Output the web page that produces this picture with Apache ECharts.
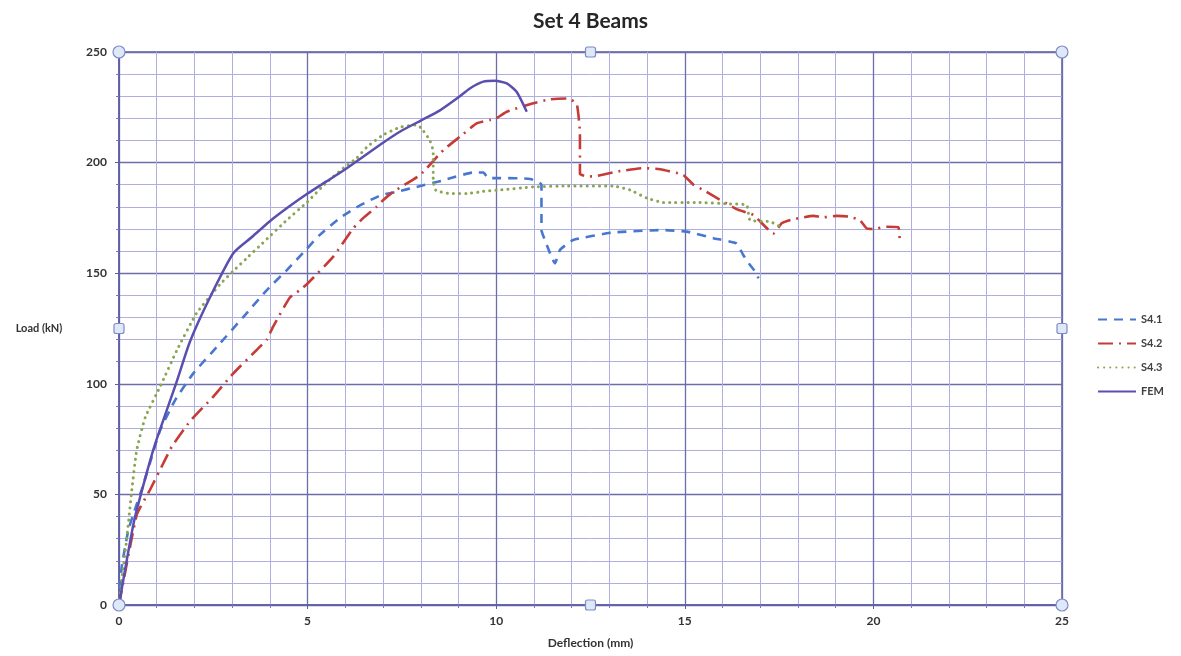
<!DOCTYPE html>
<html>
<head>
<meta charset="utf-8">
<script src="https://cdn.jsdelivr.net/npm/echarts@6/dist/echarts.min.js"></script>
<style>
html,body{margin:0;padding:0;background:#fff;}
#chart{width:1181px;height:656px;}
</style>
</head>
<body>
<div id="chart"></div>
<script>
// ---- Data ----
const chartTitle = "Set 4 Beams";
const xAxisName = "Deflection (mm)";
const yAxisName = "Load (kN)";
const seriesNames = ["S4.1", "S4.2", "S4.3", "FEM"];

const s41_x = [0, 0.07, 0.25, 0.42, 0.6, 0.87, 1.09, 1.5, 1.97, 2.68, 3.3, 3.92, 4.45, 4.98, 5.3, 5.9, 6.4, 6.95, 7.36, 7.89, 8.6, 9.39, 9.66, 9.79, 10.1, 10.9, 11.2, 11.2, 11.29, 11.56, 11.69, 12.04, 13.1, 14.43, 15.05, 15.76, 16.37, 16.55, 16.73, 16.9, 16.95];
const s41_y = [0, 17, 34, 43, 52, 67, 79, 93, 104.7, 118.3, 130.3, 142.4, 151.4, 161, 167, 175.5, 180.8, 185.3, 186.8, 189, 192, 195.5, 195.5, 193, 193, 192.6, 190, 169.5, 165, 154.5, 160.5, 165, 168.4, 169.5, 168.8, 165.8, 163.5, 158.2, 153.7, 150, 147.7];

const s42_x = [0, 0.47, 0.82, 1.22, 1.4, 1.88, 2.5, 3.03, 3.65, 3.92, 4.09, 4.53, 4.8, 4.98, 5.68, 6.21, 6.48, 6.83, 7.0, 7.27, 7.98, 8.6, 9.04, 9.48, 9.84, 10.0, 10.28, 10.98, 11.43, 11.87, 12.13, 12.22, 12.22, 12.4, 12.66, 13.19, 13.9, 14.34, 14.96, 15.23, 15.49, 16.37, 16.82, 17.35, 17.57, 17.88, 18.41, 18.67, 19.02, 19.34, 19.64, 19.82, 20.0, 20.35, 20.66, 20.7];
const s42_y = [0, 40.7, 52, 65.6, 71.6, 83, 94.2, 104.7, 115.3, 120, 126, 139, 142.4, 145, 157.5, 170.3, 175, 180, 183, 186.8, 194.4, 205.7, 211.7, 217.7, 219.3, 220, 223, 226.8, 228.6, 229, 226.8, 213, 195, 193.7, 193.9, 195.9, 197.5, 197, 194.4, 190, 187.6, 179, 176.3, 168, 172.6, 174.4, 175.9, 175.3, 175.9, 175.6, 174, 170.3, 170, 171, 170.8, 164];

const s43_x = [0, 0.1, 0.2, 0.34, 0.47, 0.7, 1.09, 1.53, 2.06, 2.68, 3.03, 3.4, 3.8, 4.45, 4.98, 5.5, 5.95, 6.3, 6.57, 7.0, 7.45, 7.89, 8.02, 8.24, 8.33, 8.33, 8.4, 8.78, 9.22, 9.66, 10.1, 10.98, 11.87, 13.1, 13.55, 13.99, 14.43, 15.31, 16.2, 16.64, 16.73, 17.26, 17.61];
const s43_y = [0, 15, 29, 52, 70, 85, 98.7, 115, 132, 145, 151, 157, 163.5, 174, 182, 191, 197.5, 202, 207, 212.5, 216, 217, 215.5, 210, 205, 192, 187.5, 186, 186, 187, 187.6, 189, 189.4, 189.4, 187.6, 184, 182, 182, 181.3, 180.8, 174, 173.3, 170.3];

const fem_x = [0, 0.4, 0.82, 1.0, 1.53, 1.88, 2.41, 3.03, 3.5, 4.0, 4.5, 5.0, 5.5, 6.0, 6.5, 7.0, 7.5, 8.0, 8.5, 9.0, 9.3, 9.66, 9.97, 10.28, 10.54, 10.81];
const fem_y = [0, 38, 65, 75, 101, 119, 139, 159, 166, 173.5, 180, 186, 191.5, 197, 203, 209, 214.5, 219, 223.5, 229.5, 233.5, 236.6, 237, 235.8, 232, 223];

const xTicks = [0, 5, 10, 15, 20, 25];
const yTicks = [0, 50, 100, 150, 200, 250];

// ---- Chart ----
const pairs = (xs, ys) => xs.map((x, i) => [x, ys[i]]);
const FONT = "Lato, 'Open Sans', 'DejaVu Sans', sans-serif";

const chart = echarts.init(document.getElementById('chart'), null, {renderer: 'canvas'});

const option = {
  backgroundColor: '#ffffff',
  animation: false,
  title: {
    text: chartTitle,
    left: 'center',
    top: 6,
    textStyle: {fontFamily: FONT, fontSize: 21, fontWeight: 'bold', color: '#262626'}
  },
  legend: {
    orient: 'vertical',
    left: 1092,
    top: 309,
    itemWidth: 38,
    itemHeight: 10,
    itemGap: 13,
    itemStyle: {opacity: 0, borderWidth: 0},
    data: seriesNames,
    textStyle: {fontFamily: FONT, fontSize: 11, fontWeight: 'bold', color: '#404040'}
  },
  grid: {
    left: 119, right: 119, top: 52, bottom: 51,
    show: true,
    borderColor: '#5d5da6',
    borderWidth: 1.5,
    containLabel: false
  },
  xAxis: {
    type: 'value',
    min: xTicks[0], max: xTicks[xTicks.length - 1], interval: 5,
    name: xAxisName,
    nameLocation: 'middle',
    nameGap: 32,
    nameTextStyle: {fontFamily: FONT, fontSize: 12, fontWeight: 'bold', color: '#333'},
    axisLine: {show: true, lineStyle: {color: '#5d5da6', width: 1.5}},
    axisTick: {show: true, length: 4, inside: false, lineStyle: {color: '#5d5da6'}},
    minorTick: {show: true, splitNumber: 5, length: 3, lineStyle: {color: '#7a7ab8'}},
    axisLabel: {fontFamily: FONT, fontSize: 12, fontWeight: 'bold', color: '#333', margin: 10},
    splitLine: {show: true, lineStyle: {color: '#6c6cab', width: 1.3}},
    minorSplitLine: {show: true, lineStyle: {color: '#aeaee0', width: 1}}
  },
  yAxis: {
    type: 'value',
    min: yTicks[0], max: yTicks[yTicks.length - 1], interval: 50,
    name: yAxisName,
    nameLocation: 'middle',
    nameRotate: 0,
    nameGap: 80,
    nameTextStyle: {fontFamily: FONT, fontSize: 11, fontWeight: 'bold', color: '#333', align: 'center', verticalAlign: 'middle'},
    axisLine: {show: true, lineStyle: {color: '#5d5da6', width: 1.5}},
    axisTick: {show: true, length: 4, lineStyle: {color: '#5d5da6'}},
    minorTick: {show: true, splitNumber: 5, length: 3, lineStyle: {color: '#7a7ab8'}},
    axisLabel: {fontFamily: FONT, fontSize: 12, fontWeight: 'bold', color: '#333', margin: 12},
    splitLine: {show: true, lineStyle: {color: '#6c6cab', width: 1.3}},
    minorSplitLine: {show: true, lineStyle: {color: '#aeaee0', width: 1}}
  },
  series: [
    {
      name: seriesNames[0], type: 'line', data: pairs(s41_x, s41_y),
      showSymbol: false, symbol: 'none', smooth: 0.15,
      lineStyle: {color: '#4877cf', width: 2.6, type: [9, 7], cap: 'butt'},
      itemStyle: {color: '#4877cf'}
    },
    {
      name: seriesNames[1], type: 'line', data: pairs(s42_x, s42_y),
      showSymbol: false, symbol: 'none', smooth: 0.15,
      lineStyle: {color: '#c63b36', width: 2.6, type: [15, 6, 2, 6], cap: 'butt'},
      itemStyle: {color: '#c63b36'}
    },
    {
      name: seriesNames[2], type: 'line', data: pairs(s43_x, s43_y),
      showSymbol: false, symbol: 'none', smooth: 0.15,
      lineStyle: {color: '#8ba652', width: 3, type: [0.1, 6], cap: 'round'},
      itemStyle: {color: '#8ba652'}
    },
    {
      name: seriesNames[3], type: 'line', data: pairs(fem_x, fem_y),
      showSymbol: false, symbol: 'none', smooth: 0.2,
      lineStyle: {color: '#5a4fae', width: 2.5, type: 'solid'},
      itemStyle: {color: '#5a4fae'}
    }
  ]
};
chart.setOption(option);

// Selection handles at the plot-area corners and mid-edges
const xMin = xTicks[0], xMax = xTicks[xTicks.length - 1];
const yMin = yTicks[0], yMax = yTicks[yTicks.length - 1];
const corners = [[xMin, yMin], [xMax, yMin], [xMin, yMax], [xMax, yMax]];
const mids = [[(xMin + xMax) / 2, yMax], [(xMin + xMax) / 2, yMin], [xMin, (yMin + yMax) / 2], [xMax, (yMin + yMax) / 2]];
const handleStyle = {fill: '#dfe8f8', stroke: '#7d8cc6', lineWidth: 1.2};
const graphics = [];
corners.forEach(c => {
  const p = chart.convertToPixel({gridIndex: 0}, c);
  graphics.push({type: 'circle', shape: {cx: p[0], cy: p[1], r: 6}, style: handleStyle, z: 100});
});
mids.forEach(c => {
  const p = chart.convertToPixel({gridIndex: 0}, c);
  graphics.push({type: 'rect', shape: {x: p[0] - 5, y: p[1] - 5, width: 10, height: 10, r: 2}, style: handleStyle, z: 100});
});
chart.setOption({graphic: graphics});
</script>
</body>
</html>
